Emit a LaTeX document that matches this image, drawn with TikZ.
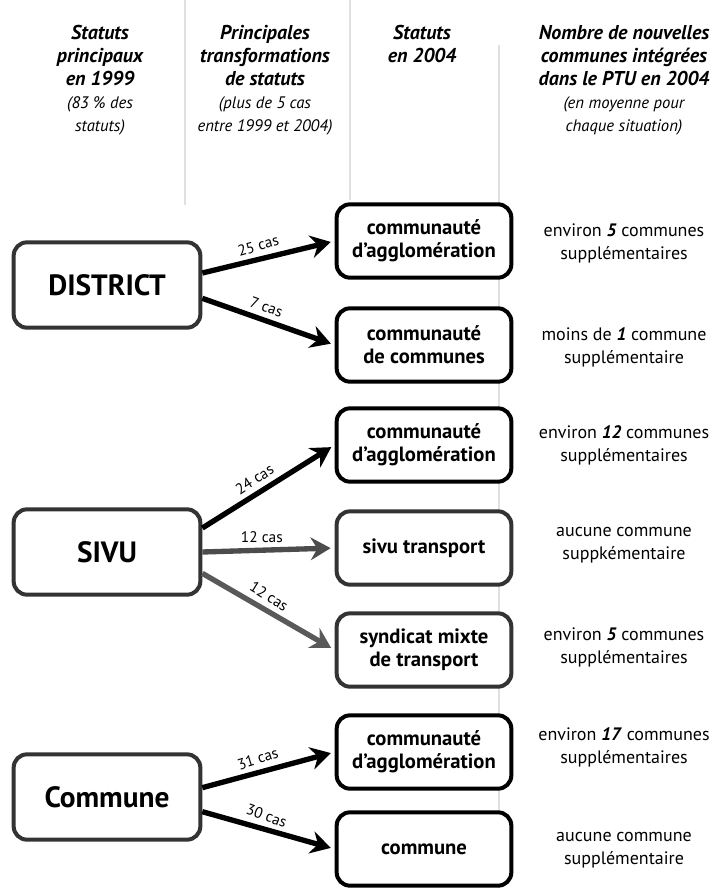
\documentclass[tikz,border=0pt]{standalone}
\usepackage{fontspec}
\setmainfont{PT Sans}
\usetikzlibrary{arrows.meta}

\tikzset{every picture/.style={line width=0.75pt}}

\begin{document}
\begin{tikzpicture}[x=0.75pt,y=0.75pt,yscale=-1,xscale=1,
    oldbox/.style={draw=black!80, fill=white, line width=3pt, rounded corners=10pt, minimum width=140pt, minimum height=64pt, font=\fontsize{22}{26}\selectfont\bfseries},
    newbox/.style={draw, fill=white, line width=3pt, rounded corners=10pt, minimum width=131pt, minimum height=55pt, align=center, font=\fontsize{15.5}{17.5}\selectfont\bfseries},
    head/.style={anchor=north, align=center, inner sep=0.75pt, font=\fontsize{15}{17.25}\selectfont\bfseries\itshape},
    gain/.style={align=center, inner sep=0.75pt, font=\fontsize{13.5}{17.25}\selectfont},
    cas/.style={line width=4pt, shorten >=3pt, -{Stealth[length=15pt,width=17pt,inset=5pt]}},
    caslabel/.style={pos=0.45, anchor=south, inner sep=4pt, font=\fontsize{11.5}{13}\selectfont},
    sep/.style={black!12, line width=1pt}]
    \useasboundingbox (0,0) rectangle (722,888);
    %column separators
    \draw[sep] (185,0) -- (185,205);
    \draw[sep] (350,0) -- (350,200);
    \draw[sep] (499,45) -- (499,888);
    % Headers
    \node[head] (h1) at (100,24) {Statuts\\principaux\\en 1999\\{\mdseries\fontsize{12.5}{17.25}\selectfont(83 \% des}\\{\mdseries\fontsize{12.5}{17.25}\selectfont statuts)}};
    \node[head] (h2) at (265,24) {Principales\\transformations\\de statuts\\{\mdseries\fontsize{12.5}{17.25}\selectfont(plus de 5 cas}\\{\mdseries\fontsize{12.5}{17.25}\selectfont entre 1999 et 2004)}};
    \node[head] (h3) at (422,24) {Statuts\\en 2004};
    \node[head] (h4) at (624,24) {Nombre de nouvelles\\communes intégrées\\dans le PTU en 2004\\{\mdseries\fontsize{12.5}{17.25}\selectfont(en moyenne pour}\\{\mdseries\fontsize{12.5}{17.25}\selectfont chaque situation)}};
    % Statuts 1999
    \node[oldbox] (district) at (107,285) {DISTRICT};
    \node[oldbox] (sivu) at (107,552) {SIVU};
    \node[oldbox] (commune) at (107,797) {Commune};
    % Statuts 2004
    \node[newbox] (ca1) at (424,241) {communauté\\d'agglomération};
    \node[newbox] (cc) at (424,345) {communauté\\de communes};
    \node[newbox] (ca2) at (424,445) {communauté\\d'agglomération};
    \node[newbox, draw=black!80] (st) at (424,548) {sivu transport};
    \node[newbox, draw=black!80] (smt) at (424,650) {syndicat mixte\\de transport};
    \node[newbox] (ca3) at (424,752) {communauté\\d'agglomération};
    \node[newbox] (com) at (424,849) {commune};
    % Transformations
    \draw[cas] ([yshift=-9pt]district.east) -- (ca1.west) node[caslabel, rotate=16] {25 cas};
    \draw[cas] ([yshift=10pt]district.east) -- (cc.west) node[caslabel, rotate=-19.5] {7 cas};
    \draw[cas] ([yshift=-18pt]sivu.east) -- (ca2.west) node[caslabel, rotate=33] {24 cas};
    \draw[cas, black!70] (sivu.east) -- (st.west) node[caslabel, black] {12 cas};
    \draw[cas, black!65] ([yshift=16pt]sivu.east) -- (smt.west) node[caslabel, black, rotate=-32] {12 cas};
    \draw[cas] ([yshift=-7pt]commune.east) -- (ca3.west) node[caslabel, rotate=17.5] {31 cas};
    \draw[cas] ([yshift=11pt]commune.east) -- (com.west) node[caslabel, rotate=-20] {30 cas};
    % Nouvelles communes
    \node[gain] (g1) at (624,243) {environ \textbf{\textit{5}} communes\\supplémentaires};
    \node[gain] (g2) at (624,347) {moins de \textbf{\textit{1}} commune\\supplémentaire};
    \node[gain] (g3) at (624,445) {environ \textbf{\textit{12}} communes\\supplémentaires};
    \node[gain] (g4) at (624,545) {aucune commune\\suppkémentaire};
    \node[gain] (g5) at (624,647) {environ \textbf{\textit{5}} communes\\supplémentaires};
    \node[gain] (g6) at (624,747) {environ \textbf{\textit{17}} communes\\supplémentaires};
    \node[gain] (g7) at (624,850) {aucune commune\\supplémentaire};
\end{tikzpicture}
\end{document}
